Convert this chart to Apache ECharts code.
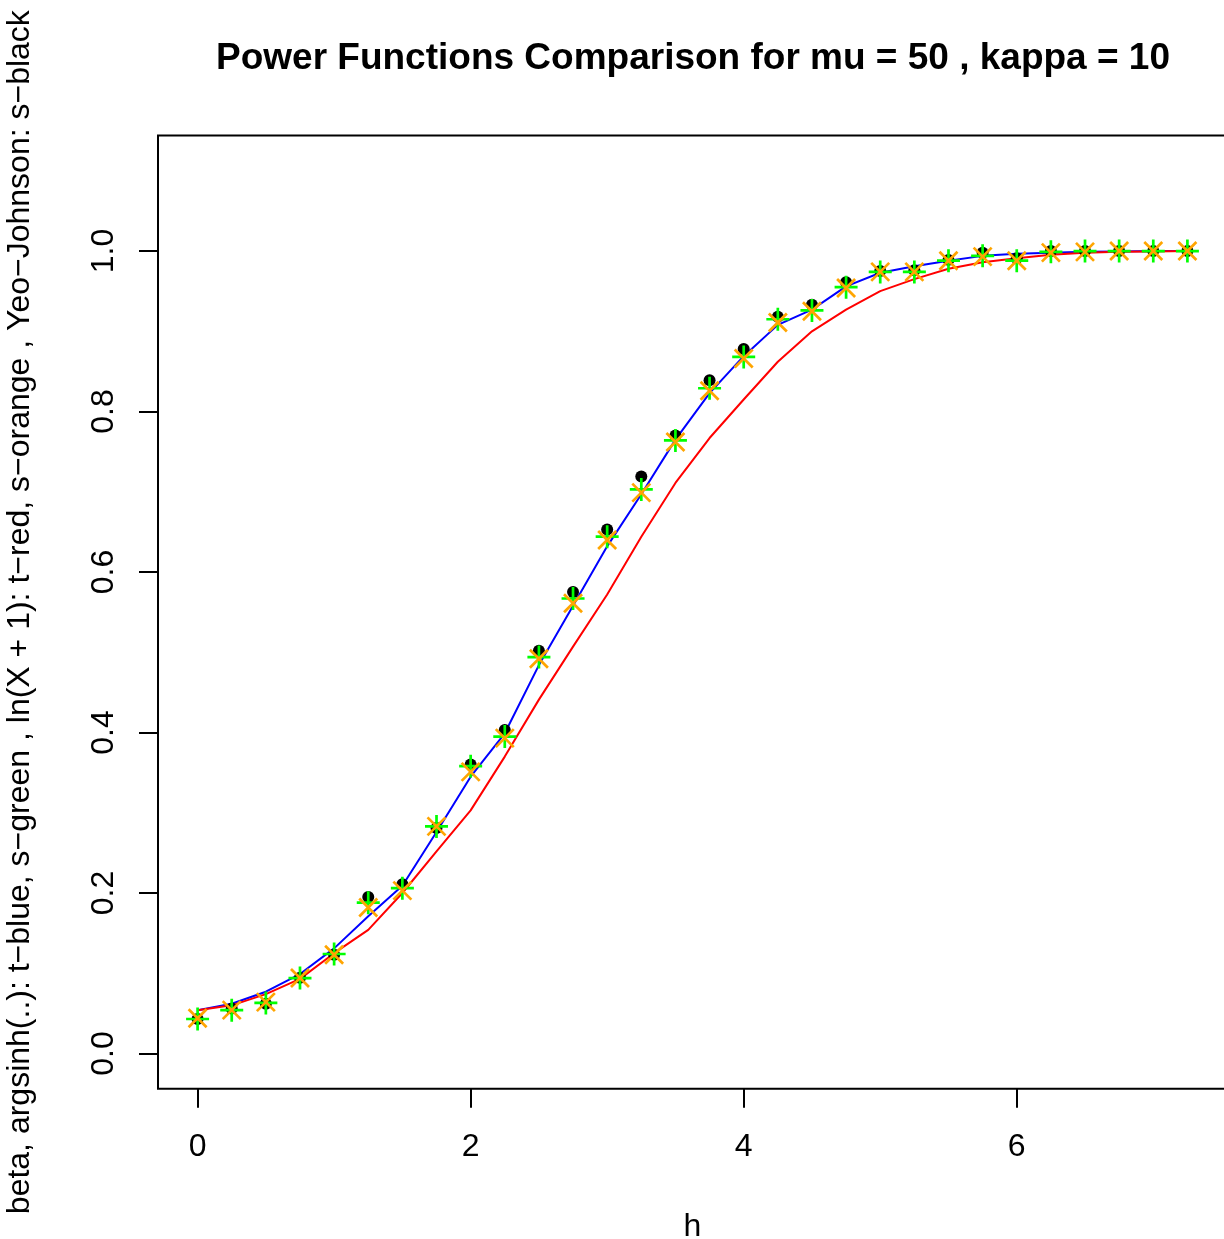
<!DOCTYPE html>
<html>
<head>
<meta charset="utf-8">
<script src="https://cdn.jsdelivr.net/npm/echarts@6/dist/echarts.min.js"></script>
<style>
  html, body { margin: 0; padding: 0; background: #ffffff; }
  #chart { width: 1224px; height: 1239px; }
</style>
</head>
<body>
<div id="chart"></div>
<script>
// Effect size h (shift of the alternative)
const h = [0, 0.25, 0.5, 0.75, 1, 1.25, 1.5, 1.75, 2, 2.25, 2.5, 2.75, 3, 3.25, 3.5,
           3.75, 4, 4.25, 4.5, 4.75, 5, 5.25, 5.5, 5.75, 6, 6.25, 6.5, 6.75, 7, 7.25];

// t-test power after argsinh transform (blue line)
const tBlue = [0.054, 0.062, 0.077, 0.099, 0.131, 0.171, 0.209, 0.276, 0.345, 0.399,
               0.484, 0.558, 0.632, 0.697, 0.765, 0.823, 0.869, 0.908, 0.927, 0.956,
               0.973, 0.981, 0.988, 0.994, 0.9965, 0.998, 0.999, 0.9995, 1.0, 1.0];

// t-test power after ln(X + 1) transform (red line)
const tRed = [0.054, 0.060, 0.074, 0.093, 0.125, 0.154, 0.200, 0.252, 0.303, 0.370,
              0.441, 0.507, 0.572, 0.644, 0.711, 0.767, 0.815, 0.862, 0.900, 0.927,
              0.950, 0.965, 0.978, 0.986, 0.991, 0.9955, 0.998, 0.999, 0.9995, 1.0];

// simulated power, argsinh (green)
const sGreen = [0.043, 0.054, 0.063, 0.094, 0.124, 0.188, 0.206, 0.283, 0.358, 0.395,
                0.494, 0.567, 0.644, 0.703, 0.764, 0.829, 0.868, 0.915, 0.926, 0.955,
                0.974, 0.974, 0.988, 0.994, 0.988, 0.999, 1.0, 1.0, 1.0, 1.0];

// simulated power, ln(X + 1) (orange)
const sOrange = [0.044, 0.054, 0.064, 0.094, 0.123, 0.182, 0.203, 0.283, 0.351, 0.393,
                 0.492, 0.561, 0.640, 0.699, 0.762, 0.826, 0.866, 0.911, 0.925, 0.954,
                 0.974, 0.974, 0.988, 0.993, 0.988, 0.998, 0.999, 1.0, 1.0, 1.0];

// simulated power, Yeo-Johnson (black)
const sBlack = [0.043, 0.056, 0.062, 0.0945, 0.123, 0.195, 0.211, 0.281, 0.360, 0.403,
                0.502, 0.575, 0.653, 0.719, 0.770, 0.839, 0.878, 0.918, 0.933, 0.961,
                0.975, 0.976, 0.989, 0.998, 0.991, 1.0, 1.0, 1.0, 1.0, 1.0];

const xTicks = [0, 2, 4, 6];
const yTicks = [0, 0.2, 0.4, 0.6, 0.8, 1.0];

const titleText = 'Power Functions Comparison for mu = 50 , kappa = 10';
const xName = 'h';
const yName = 'beta, argsinh(..): t\u2212blue, s\u2212green , ln(X + 1): t\u2212red, s\u2212orange , Yeo\u2212Johnson: s\u2212black';

const pair = ys => h.map((x, i) => [x, ys[i]]);

const FONT = '"Liberation Sans", Arial, Helvetica, sans-serif';
const PLUS = 'path://M0,-10L0,10M-10,0L10,0';
const CROSS = 'path://M-10,-10L10,10M-10,10L10,-10';

const chart = echarts.init(document.getElementById('chart'), null, { renderer: 'canvas' });

chart.setOption({
  animation: false,
  backgroundColor: '#ffffff',
  textStyle: { fontFamily: FONT },
  grid: {
    left: 158, top: 135.5, width: 1069, height: 953.3,
    show: true, borderColor: '#000000', borderWidth: 2, backgroundColor: 'transparent',
    containLabel: false, outerBoundsMode: 'none'
  },
  graphic: [{
    type: 'text',
    x: 693, y: 59,
    style: {
      text: titleText, align: 'center', verticalAlign: 'middle',
      font: 'bold 37px ' + FONT, fill: '#000000'
    }
  }],
  xAxis: {
    type: 'value', min: -0.29, max: 7.54,
    axisLine: { show: false, onZero: false },
    splitLine: { show: false },
    axisTick: {
      show: true, customValues: xTicks, length: 19, inside: false,
      lineStyle: { color: '#000000', width: 2 }
    },
    axisLabel: {
      show: true, customValues: xTicks, margin: 42,
      fontSize: 32, color: '#000000', fontFamily: FONT,
      formatter: v => String(v)
    },
    name: xName, nameLocation: 'middle', nameGap: 122,
    nameTextStyle: { fontSize: 32, color: '#000000', fontFamily: FONT }
  },
  yAxis: {
    type: 'value', min: -0.044, max: 1.144,
    axisLine: { show: false, onZero: false },
    splitLine: { show: false },
    axisTick: {
      show: true, customValues: yTicks, length: 19, inside: false,
      lineStyle: { color: '#000000', width: 2 }
    },
    axisLabel: {
      show: true, customValues: yTicks, margin: 38, rotate: 90,
      fontSize: 32, color: '#000000', fontFamily: FONT,
      formatter: v => v.toFixed(1)
    },
    name: yName, nameLocation: 'middle', nameGap: 122, nameRotate: 90,
    nameTextStyle: { fontSize: 32, color: '#000000', fontFamily: FONT }
  },
  series: [
    {
      name: 't-blue', type: 'line', data: pair(tBlue),
      showSymbol: false, symbol: 'none',
      lineStyle: { color: '#0000FF', width: 2 }, z: 2
    },
    {
      name: 't-red', type: 'line', data: pair(tRed),
      showSymbol: false, symbol: 'none',
      lineStyle: { color: '#FF0000', width: 2 }, z: 2
    },
    {
      name: 's-black', type: 'scatter', data: pair(sBlack),
      symbol: 'circle', symbolSize: 12,
      itemStyle: { color: '#000000', opacity: 1 }, z: 3
    },
    {
      name: 's-green', type: 'scatter', data: pair(sGreen),
      symbol: PLUS, symbolSize: 23,
      itemStyle: { color: 'transparent', borderColor: '#00FF00', borderWidth: 2.7, opacity: 1 }, z: 3
    },
    {
      name: 's-orange', type: 'scatter', data: pair(sOrange),
      symbol: CROSS, symbolSize: 18,
      itemStyle: { color: 'transparent', borderColor: '#FFA500', borderWidth: 2.7, opacity: 1 }, z: 3
    }
  ]
});
</script>
</body>
</html>
